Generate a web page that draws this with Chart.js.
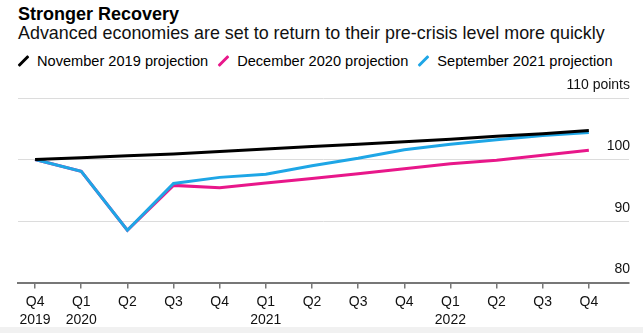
<!DOCTYPE html>
<html>
<head>
<meta charset="utf-8">
<script src="https://cdn.jsdelivr.net/npm/chart.js@4"></script>
<style>
    body { margin: 0; width: 643px; height: 333px; background: #fff; position: relative; overflow: hidden;
        font-family: "Liberation Sans", Arial, sans-serif; color: #000; }
    #title { position: absolute; left: 18px; top: 4px; font-size: 18px; font-weight: bold; }
    #subtitle { position: absolute; left: 18px; top: 23px; font-size: 17.9px; color: #111; }
    #legend { position: absolute; left: 18px; top: 53px; font-size: 14.6px; display: flex; align-items: center; }
    .item { display: flex; align-items: center; margin-right: 10px; }
    .mark { width: 3px; height: 14px; margin: 0 12px 0 4px; transform: rotate(45deg); border-radius: 1px; }
    #wrap { position: absolute; left: 0; top: 70px; width: 643px; height: 263px; }
    #strip { position: absolute; left: 0; top: 327px; width: 643px; height: 6px; background: #f1f1f1; }
</style>
</head>
<body>
<div id="title">Stronger Recovery</div>
<div id="subtitle">Advanced economies are set to return to their pre-crisis level more quickly</div>
<div id="legend"></div>
<div id="strip"></div>
<div id="wrap"><canvas id="chart"></canvas></div>
<script>
// quarters Q4 2019 .. Q4 2022
let quarters = ["Q4", "Q1", "Q2", "Q3", "Q4", "Q1", "Q2", "Q3", "Q4", "Q1", "Q2", "Q3", "Q4"];
let years = ["2019", "2020", "", "", "", "2021", "", "", "", "2022", "", "", ""];

let nov2019 = [100, 100.3, 100.6, 100.9, 101.3, 101.7, 102.1, 102.5, 102.9, 103.3, 103.8, 104.2, 104.7];
let dec2020 = [100, 98.1, 88.5, 95.8, 95.4, 96.2, 96.9, 97.7, 98.5, 99.3, 99.9, 100.7, 101.5];
let sep2021 = [100, 98.1, 88.5, 96.1, 97.1, 97.6, 99.0, 100.2, 101.6, 102.5, 103.2, 103.9, 104.4];

let seriesNames = ["November 2019 projection", "December 2020 projection", "September 2021 projection"];
let seriesColors = ["#000000", "#e8178a", "#1ea6e6"];

let legend = document.getElementById("legend");
for (let i = 0; i < seriesNames.length; i++) {
    let item = document.createElement("div");
    item.className = "item";
    item.innerHTML = '<span class="mark" style="background:' + seriesColors[i] + '"></span>' + seriesNames[i];
    legend.appendChild(item);
}

function toPoints(values) {
    return values.map((v, i) => ({x: i, y: v}));
}

let allSeries = [nov2019, dec2020, sep2021];
let order = [1, 3, 2]; // lower order is drawn on top
let dataSets = [];
for (let i = 0; i < allSeries.length; i++) {
    dataSets.push({
        label: seriesNames[i],
        data: toPoints(allSeries[i]),
        borderColor: seriesColors[i],
        borderWidth: 3,
        pointRadius: 0,
        tension: 0,
        order: order[i]
    });
}

const config = {
    type: 'line',
    data: { datasets: dataSets },
    options: {
        responsive: true,
        maintainAspectRatio: false,
        animation: false,
        layout: { padding: { top: 28, left: 18, right: 14, bottom: 0 } },
        plugins: { legend: { display: false }, tooltip: { enabled: false } },
        scales: {
            x: {
                type: 'linear',
                min: -0.37,
                max: 12.87,
                afterBuildTicks: (s) => { s.ticks = quarters.map((q, i) => ({value: i})); },
                grid: { drawOnChartArea: false, drawTicks: true, tickLength: 6, color: '#777', lineWidth: 1.5 },
                border: { display: true, color: '#777', width: 2 },
                ticks: {
                    padding: 4,
                    maxRotation: 0,
                    autoSkip: false,
                    color: '#111',
                    font: { family: 'Liberation Sans', size: 14, lineHeight: 1.3 },
                    callback: (v) => years[v] ? [quarters[v], years[v]] : quarters[v]
                }
            },
            y: {
                position: 'right',
                min: 80,
                max: 110,
                afterFit: (s) => { s.width = 0; },
                grid: { color: '#dcdcdc', lineWidth: 1, drawTicks: false },
                border: { display: false },
                ticks: {
                    stepSize: 10,
                    mirror: true,
                    padding: 1,
                    labelOffset: -13,
                    color: '#111',
                    font: { family: 'Liberation Sans', size: 14 },
                    callback: (v) => v == 110 ? '110 points' : v
                }
            }
        }
    }
};

new Chart(document.getElementById("chart"), config);
</script>
</body>
</html>
